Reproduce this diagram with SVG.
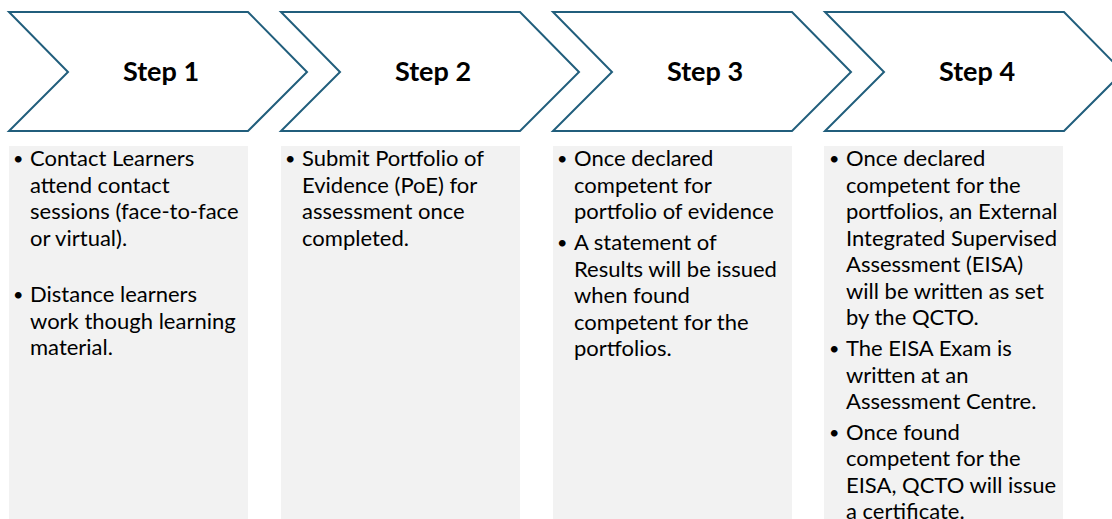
<svg xmlns="http://www.w3.org/2000/svg" width="1112" height="519" viewBox="0 0 1112 519">
<style>
.chev{fill:#ffffff;stroke:#215e7c;stroke-width:2;stroke-linejoin:miter}
.box{fill:#f2f2f2}
.title{font-family:Lato,"Liberation Sans",sans-serif;font-weight:bold;font-size:27px;fill:#000;text-anchor:middle}
.t{font-family:Lato,"Liberation Sans",sans-serif;font-size:22px;fill:#000}
.b{font-family:Lato,"Liberation Sans",sans-serif;font-size:18px;fill:#000}
</style>
<rect width="1112" height="519" fill="#ffffff"/>
<g id="step1">
<path class="chev" d="M9,12 L248,12 L307,72 L248,131 L9,131 L68,72 Z"/>
<text class="title" x="161" y="81">Step 1</text>
<rect class="box" x="9" y="146" width="239" height="373"/>
<text class="b"><tspan x="13" y="165">•</tspan><tspan x="13" y="301">•</tspan></text>
<text class="t"><tspan x="30" y="166">Contact Learners</tspan><tspan x="30" y="192.5">attend contact</tspan><tspan x="30" y="219">sessions (face-to-face</tspan><tspan x="30" y="245.5">or virtual).</tspan><tspan x="30" y="302">Distance learners</tspan><tspan x="30" y="328.5">work though learning</tspan><tspan x="30" y="355">material.</tspan></text>
</g>
<g id="step2">
<path class="chev" d="M281,12 L520,12 L579,72 L520,131 L281,131 L340,72 Z"/>
<text class="title" x="433" y="81">Step 2</text>
<rect class="box" x="281" y="146" width="239" height="373"/>
<text class="b"><tspan x="285" y="165">•</tspan></text>
<text class="t"><tspan x="302" y="166">Submit Portfolio of</tspan><tspan x="302" y="192.5">Evidence (PoE) for</tspan><tspan x="302" y="219">assessment once</tspan><tspan x="302" y="245.5">completed.</tspan></text>
</g>
<g id="step3">
<path class="chev" d="M553,12 L792,12 L851,72 L792,131 L553,131 L612,72 Z"/>
<text class="title" x="705" y="81">Step 3</text>
<rect class="box" x="553" y="146" width="239" height="373"/>
<text class="b"><tspan x="557" y="165">•</tspan><tspan x="557" y="249">•</tspan></text>
<text class="t"><tspan x="574" y="166">Once declared</tspan><tspan x="574" y="192.5">competent for</tspan><tspan x="574" y="219">portfolio of evidence</tspan><tspan x="574" y="250">A statement of</tspan><tspan x="574" y="276.5">Results will be issued</tspan><tspan x="574" y="303">when found</tspan><tspan x="574" y="329.5">competent for the</tspan><tspan x="574" y="356">portfolios.</tspan></text>
</g>
<g id="step4">
<path class="chev" d="M825,12 L1064,12 L1123,72 L1064,131 L825,131 L884,72 Z"/>
<text class="title" x="977" y="81">Step 4</text>
<rect class="box" x="824" y="146" width="239" height="373"/>
<text class="b"><tspan x="829" y="165">•</tspan><tspan x="829" y="355">•</tspan><tspan x="829" y="438.5">•</tspan></text>
<text class="t"><tspan x="846" y="166">Once declared</tspan><tspan x="846" y="192.5">competent for the</tspan><tspan x="846" y="219">portfolios, an External</tspan><tspan x="846" y="245.5">Integrated Supervised</tspan><tspan x="846" y="272">Assessment (EISA)</tspan><tspan x="846" y="298.5">will be written as set</tspan><tspan x="846" y="325">by the QCTO.</tspan><tspan x="846" y="356">The EISA Exam is</tspan><tspan x="846" y="382.5">written at an</tspan><tspan x="846" y="409">Assessment Centre.</tspan><tspan x="846" y="439.5">Once found</tspan><tspan x="846" y="466">competent for the</tspan><tspan x="846" y="492.5">EISA, QCTO will issue</tspan><tspan x="846" y="518.5">a certificate.</tspan></text>
</g>
</svg>
